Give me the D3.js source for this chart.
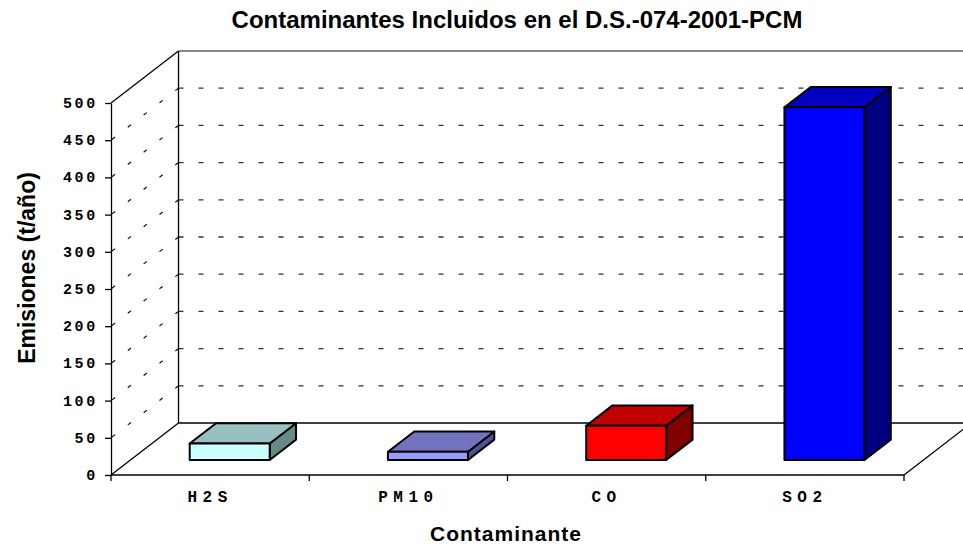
<!DOCTYPE html>
<html>
<head>
<meta charset="utf-8">
<script src="https://cdn.jsdelivr.net/npm/d3@7"></script>
<style>
  body { margin: 0; background: #fff; }
</style>
</head>
<body>
<div id="chart"></div>
<script>
// data
const categories = ["H2S", "PM10", "CO", "SO2"];
const emissions = [22, 11, 46, 474];
const yTicks = [0, 50, 100, 150, 200, 250, 300, 350, 400, 450, 500];
const chartTitle = "Contaminantes Incluidos en el D.S.-074-2001-PCM";
const xTitle = "Contaminante";
const yTitle = "Emisiones (t/año)";

const frontColor = ["#CCFFFF", "#9999FF", "#FF0000", "#0000FF"];
const topColor   = ["#99C0C0", "#7373BF", "#BF0000", "#0000BF"];
const sideColor  = ["#668A88", "#50509A", "#800000", "#000080"];

var width = 963, height = 544;
var plot = {left: 111, right: 904, bottom: 475, top: 103};
var DX = 67.5, DY = 52;        // depth of the 3d box
var z0 = 0.29, z1 = 0.68;      // where the bars sit in depth

var svg = d3.select("#chart")
  .append("svg")
    .attr("width", width)
    .attr("height", height)
    .style("font-family", "'Liberation Sans', Arial, sans-serif");

var x = d3.scaleBand()
  .domain(categories)
  .range([plot.left, plot.right]);

var y = d3.scaleLinear()
  .domain([0, 500])
  .range([plot.bottom, plot.top]);

// project a point at depth z (0 = front, 1 = back wall)
function px(xv, z) { return xv + z * DX }
function py(yv, z) { return yv - z * DY }

var walls = svg.append("g")

// back wall grid lines
walls.selectAll("backGrid")
  .data(yTicks.filter(d => d > 0))
  .enter()
  .append("line")
  .attr("x1", px(plot.left, 1))
  .attr("x2", width + 10)
  .attr("y1", d => py(y(d), 1))
  .attr("y2", d => py(y(d), 1))
  .attr("stroke", d => d == 500 ? "#888" : "#333")
  .attr("stroke-width", d => d == 500 ? 2 : 1.3)
  .attr("stroke-dasharray", d => d == 500 ? null : "5,15")

// side wall diagonal dashes
walls.selectAll("sideGrid")
  .data(yTicks.filter(d => d > 0 && d < 500))
  .enter()
  .append("line")
  .attr("x1", px(plot.left, 1))
  .attr("y1", d => py(y(d), 1))
  .attr("x2", plot.left)
  .attr("y2", d => y(d))
  .attr("stroke", "#111")
  .attr("stroke-width", 1.2)
  .attr("stroke-dasharray", "4,16")

// solid frame of the box
var frame = [
  [[px(plot.left, 0), y(500)], [px(plot.left, 1), py(y(500), 1)]],
  [[px(plot.left, 1), py(y(500), 1)], [px(plot.left, 1), py(y(0), 1)]],
  [[px(plot.left, 0), y(0)], [px(plot.left, 1), py(y(0), 1)]],
  [[px(plot.left, 1), py(y(0), 1)], [width + 10, py(y(0), 1)]],
  [[plot.right, y(0)], [px(plot.right, 1), py(y(0), 1)]],
  [[plot.left, y(0)], [plot.right, y(0)]]
]
walls.selectAll("frame")
  .data(frame)
  .enter()
  .append("line")
  .attr("x1", d => d[0][0]).attr("y1", d => d[0][1])
  .attr("x2", d => d[1][0]).attr("y2", d => d[1][1])
  .attr("stroke", "black")
  .attr("stroke-width", 1.3)

// y axis
svg.append("g")
  .attr("transform", "translate(" + plot.left + ",0)")
  .call(d3.axisLeft(y).tickValues(yTicks).tickSize(6).tickSizeOuter(0).tickPadding(9))
  .call(g => g.selectAll("path, line").attr("stroke", "black").attr("stroke-width", 1.3))
  .call(g => g.selectAll("text")
    .attr("dy", "0.3em")
    .attr("x", -13)
    .style("font-family", "'Liberation Mono', 'Courier New', monospace")
    .style("font-weight", "bold")
    .style("font-size", "15px")
    .style("letter-spacing", "2.7px")
    .attr("fill", "black"))

// x axis ticks between categories
var xTickPos = categories.map(d => x(d)).concat([plot.right])
svg.selectAll("xTicks")
  .data(xTickPos)
  .enter()
  .append("line")
  .attr("x1", d => d).attr("x2", d => d)
  .attr("y1", y(0)).attr("y2", y(0) + 6)
  .attr("stroke", "black")
  .attr("stroke-width", 1.3)

svg.selectAll("xLabels")
  .data(categories)
  .enter()
  .append("text")
  .attr("x", d => x(d) + x.bandwidth() / 2)
  .attr("y", 502)
  .attr("text-anchor", "middle")
  .style("font-family", "'Liberation Mono', 'Courier New', monospace")
  .style("font-weight", "bold")
  .style("font-size", "16px")
  .style("letter-spacing", "5.5px")
  .text(d => d)

// 3d bars
var barW = 80
var bars = svg.selectAll("bars")
  .data(categories)
  .enter()
  .append("g")

function bx(c) { return x(c) + (x.bandwidth() - barW) / 2 }
function pts(list) { return list.map(p => p.join(",")).join(" ") }

bars.append("polygon")
  .attr("points", (d, i) => {
    var a = bx(d), b = a + barW, v = y(emissions[i]), o = y(0)
    return pts([[px(b, z0), py(v, z0)], [px(b, z1), py(v, z1)], [px(b, z1), py(o, z1)], [px(b, z0), py(o, z0)]])
  })
  .attr("fill", (d, i) => sideColor[i])

bars.append("polygon")
  .attr("points", (d, i) => {
    var a = bx(d), b = a + barW, v = y(emissions[i])
    return pts([[px(a, z0), py(v, z0)], [px(b, z0), py(v, z0)], [px(b, z1), py(v, z1)], [px(a, z1), py(v, z1)]])
  })
  .attr("fill", (d, i) => topColor[i])

bars.append("rect")
  .attr("x", d => px(bx(d), z0))
  .attr("y", (d, i) => py(y(emissions[i]), z0))
  .attr("width", barW)
  .attr("height", (d, i) => y(0) - y(emissions[i]))
  .attr("fill", (d, i) => frontColor[i])

bars.selectAll("polygon, rect")
  .attr("stroke", "black")
  .attr("stroke-width", 2)
  .attr("stroke-linejoin", "round")

// titles
svg.append("text")
  .attr("x", 517)
  .attr("y", 28)
  .attr("text-anchor", "middle")
  .style("font-weight", "bold")
  .style("font-size", "24px")
  .text(chartTitle)

svg.append("text")
  .attr("x", 506)
  .attr("y", 541)
  .attr("text-anchor", "middle")
  .style("font-weight", "bold")
  .style("font-size", "21px")
  .style("letter-spacing", "1px")
  .text(xTitle)

svg.append("text")
  .attr("transform", "translate(35,268) rotate(-90)")
  .attr("text-anchor", "middle")
  .style("font-weight", "bold")
  .style("font-size", "23px")
  .text(yTitle)
</script>
</body>
</html>
